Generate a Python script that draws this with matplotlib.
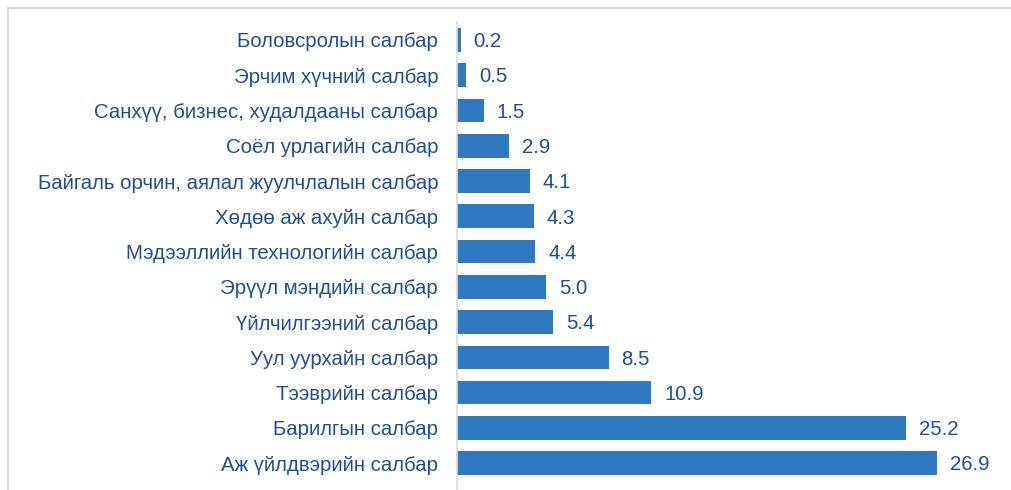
import matplotlib
matplotlib.use("Agg")
import matplotlib.pyplot as plt
from matplotlib.patches import Rectangle

categories = [
    "Боловсролын салбар",
    "Эрчим хүчний салбар",
    "Санхүү, бизнес, худалдааны салбар",
    "Соёл урлагийн салбар",
    "Байгаль орчин, аялал жуулчлалын салбар",
    "Хөдөө аж ахуйн салбар",
    "Мэдээллийн технологийн салбар",
    "Эрүүл мэндийн салбар",
    "Үйлчилгээний салбар",
    "Уул уурхайн салбар",
    "Тээврийн салбар",
    "Барилгын салбар",
    "Аж үйлдвэрийн салбар",
]
values = [0.2, 0.5, 1.5, 2.9, 4.1, 4.3, 4.4, 5.0, 5.4, 8.5, 10.9, 25.2, 26.9]

W, H = 1011, 490
fig = plt.figure(figsize=(W / 100, H / 100), dpi=100)
plt.rcParams['font.family'] = ['Liberation Sans', 'DejaVu Sans']

# outer frame
fig.patches.append(Rectangle((8 / W, -0.1), 1.2, 1 - 8 / H + 0.1,
                             transform=fig.transFigure, fill=False,
                             edgecolor='#D9D9D9', linewidth=1.5, zorder=0))

ax_left, ax_right = 457, 992
ax_top, ax_bottom = 22.3, 490
ax = fig.add_axes([ax_left / W, 1 - ax_bottom / H,
                   (ax_right - ax_left) / W, (ax_bottom - ax_top) / H])

bar_color = '#3079C0'
text_color = '#1F4E96'
fs = 14.7
y = list(range(len(categories)))
bars = ax.barh(y, values, height=0.67, color=bar_color)
ax.set_xlim(0, 30)
ax.set_ylim(12.76, -0.5)

for b, v in zip(bars, values):
    ax.text(v + 0.72, b.get_y() + b.get_height() / 2 + 0.05, f"{v:.1f}",
            va='center', ha='left', fontsize=fs, color=text_color)

ax.set_yticks(y)
ax.set_yticklabels(categories, fontsize=fs, color=text_color)
ax.tick_params(axis='y', length=0, pad=13.5)
ax.set_xticks([])
for s in ['top', 'right', 'bottom']:
    ax.spines[s].set_visible(False)
ax.spines['left'].set_color('#D9D9D9')
ax.spines['left'].set_linewidth(1.2)
ax.set_facecolor('none')

fig.savefig('out.png', dpi=100)
